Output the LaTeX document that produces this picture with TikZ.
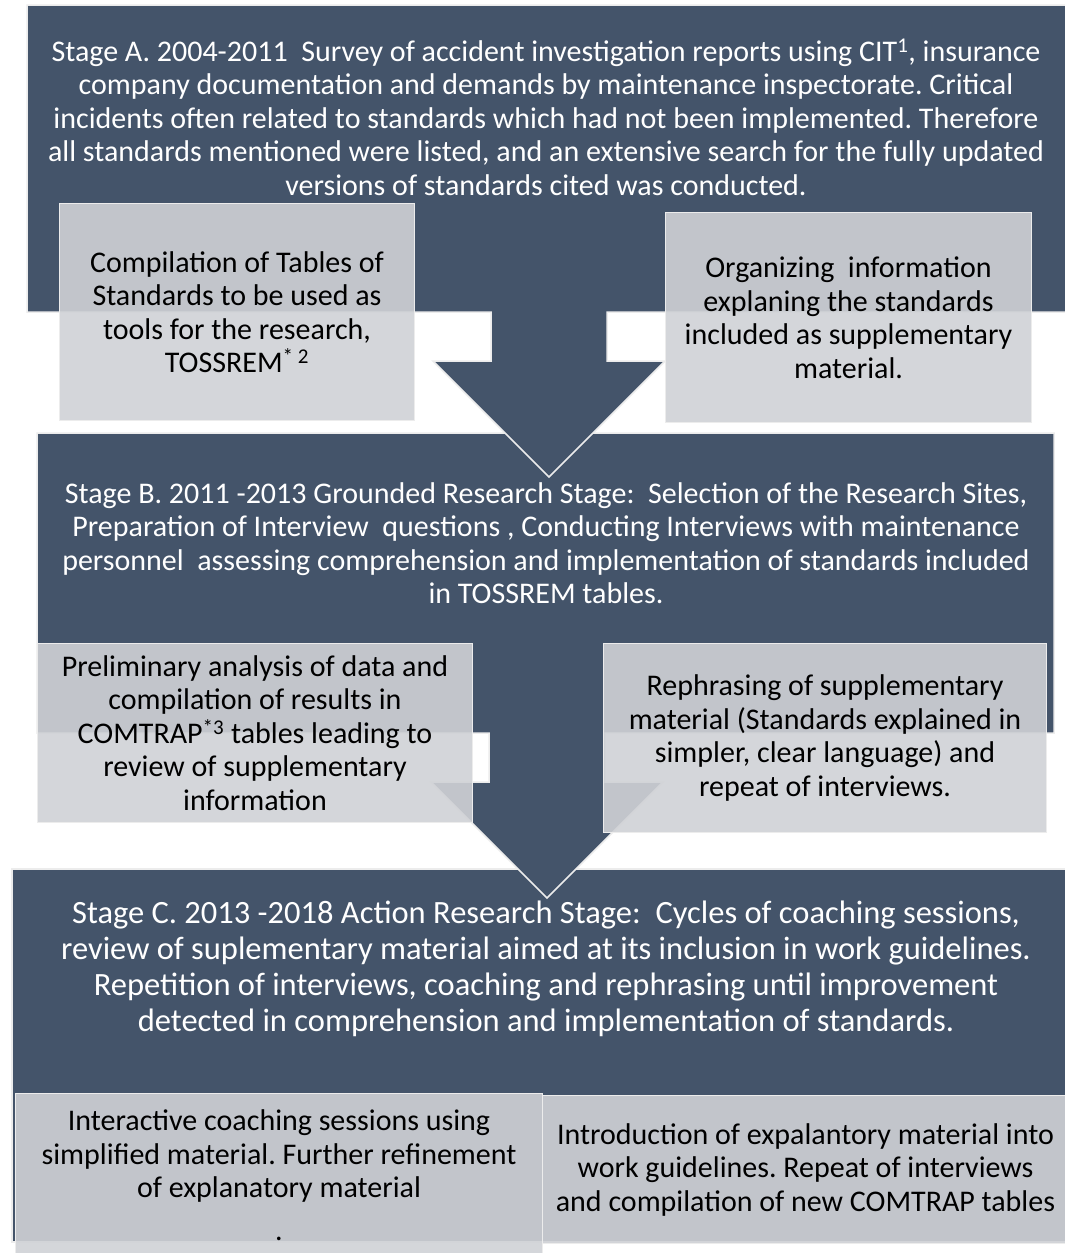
\documentclass[tikz,border=0pt]{standalone}
\usepackage{fontspec}
\setmainfont{Carlito}
\frenchspacing
\definecolor{stageblue}{HTML}{44546A}
\definecolor{subgray}{RGB}{208,210,214}
\definecolor{edgegray}{RGB}{236,236,236}
\tikzset{
	stagefill/.style={fill=stageblue,draw=edgegray,line width=1.5pt},
	stagetext/.style={text=white,align=center,font=\fontsize{30}{33.5}\selectfont},
	subbox/.style={fill=subgray,fill opacity=0.9,text opacity=1,draw=edgegray,line width=1pt,inner sep=0pt,anchor=north west,align=center,font=\fontsize{30}{33.5}\selectfont},
}
% #1 left, #2 top, #3 right, #4 bottom of the block, #5 middle of the arrow
\newcommand{\drawstage}[5]{
	\draw[stagefill] (#1,#2) -- (#3,#2) -- (#3,#4) -- (#5+58,#4) -- (#5+58,#4+49) -- (#5+116,#4+49)
		-- (#5,#4+165) -- (#5-116,#4+49) -- (#5-58,#4+49) -- (#5-58,#4) -- (#1,#4) -- cycle;
}
\begin{document}
\begin{tikzpicture}[x=1pt,y=-1pt]
	\useasboundingbox (0,0) rectangle (1065,1253);
	\fill[white] (0,0) rectangle (1065,1253);
	\draw[stagefill] (12,869) rectangle (1070,1242);
	\drawstage{37}{433}{1054}{733}{547}
	\drawstage{27}{5}{1070}{312}{549}
	\node[stagetext] (stageA) at (546,117) {Stage A. 2004-2011\ \ Survey of accident investigation reports using CIT\textsuperscript{1}, insurance\\
		company documentation and demands by maintenance inspectorate. Critical\\
		incidents often related to standards which had not been implemented. Therefore\\
		all standards mentioned were listed, and an extensive search for the fully updated\\
		versions of standards cited was conducted.};
	\node[subbox,minimum width=355pt,minimum height=217pt] (tossrem) at (59,203) {Compilation of Tables of\\
		Standards to be used as\\ tools for the research,\\ TOSSREM\textsuperscript{* 2}};
	\node[subbox,minimum width=366pt,minimum height=210pt] (organize) at (665,212) {Organizing\ \ information\\
		explaning the standards\\ included as supplementary\\ material.};
	\node[stagetext] (stageB) at (546,543) {Stage B. 2011 -2013 Grounded Research Stage:\ \ Selection of the Research Sites,\\
		Preparation of Interview\ \ questions , Conducting Interviews with maintenance\\
		personnel\ \ assessing comprehension and implementation of standards included\\
		in TOSSREM tables.};
	\node[subbox,minimum width=435pt,minimum height=179pt] (prelim) at (37,643) {Preliminary analysis of data and\\
		compilation of results in\\ COMTRAP\textsuperscript{*3} tables leading to\\ review of supplementary\\ information};
	\node[subbox,minimum width=443pt,minimum height=189pt] (rephrase) at (603,643) {Rephrasing of supplementary\\
		material (Standards explained in\\ simpler, clear language) and\\ repeat of interviews.};
	\node[stagetext,font=\fontsize{32.5}{35.8}\selectfont] (stageC) at (546,969) {Stage C. 2013 -2018 Action Research Stage:\ \ Cycles of coaching sessions,\\
		review of suplementary material aimed at its inclusion in work guidelines.\\
		Repetition of interviews, coaching and rephrasing until improvement\\
		detected in comprehension and implementation of standards.};
	\node[subbox,minimum width=527pt,minimum height=163pt] (coaching) at (15,1093) {Interactive coaching sessions using\\
		simplified material. Further refinement\\ of explanatory material\\[9pt] .};
	\node[subbox,minimum width=526pt,minimum height=148pt] (guidelines) at (542,1095) {Introduction of expalantory material into\\
		work guidelines. Repeat of interviews\\ and compilation of new COMTRAP tables};
\end{tikzpicture}
\end{document}
